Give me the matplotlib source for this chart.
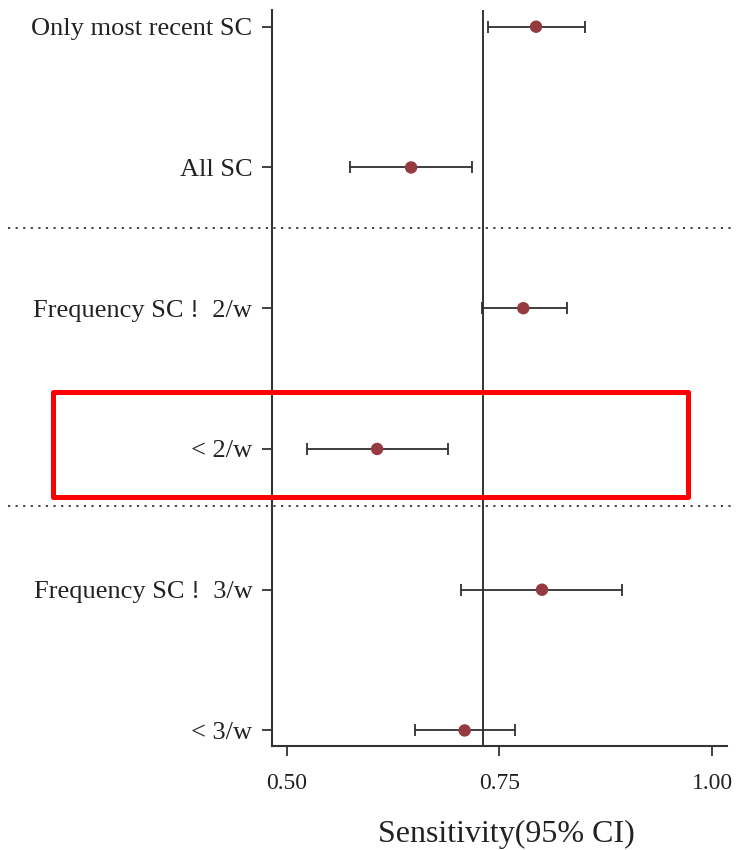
import matplotlib
matplotlib.use("Agg")
import matplotlib.pyplot as plt
from matplotlib.patches import Rectangle

# Data
labels = ["Only most recent SC", "All SC", "Frequency SC !  2/w", "< 2/w",
          "Frequency SC !  3/w", "< 3/w"]
estimate = [0.793, 0.646, 0.778, 0.606, 0.800, 0.709]
ci_low = [0.736, 0.574, 0.729, 0.523, 0.705, 0.651]
ci_high = [0.851, 0.718, 0.829, 0.689, 0.894, 0.768]
reference = 0.731
separators = [1.432, 3.408]
xticks = [0.50, 0.75, 1.00]
xticklabels = ["0.50", "0.75", "1.00"]

plt.rcParams['font.family'] = ['Liberation Serif', 'DejaVu Serif']

fig = plt.figure(figsize=(7.36, 8.5), dpi=100)
ax = fig.add_axes([272/736, 1-746/850, 455/736, 736/850])

ypos = list(range(len(labels)))
ax.axvline(reference, color='#333333', lw=1.4, zorder=1)

for y, lo, hi, est in zip(ypos, ci_low, ci_high, estimate):
    ax.errorbar([est], [y], xerr=[[est-lo], [hi-est]], fmt='none',
                ecolor='#2f2f2f', elinewidth=1.3, capsize=4.3, capthick=1.3, zorder=2)
ax.scatter(estimate, ypos, s=80, color='#943a40', zorder=3, edgecolors='none')

tr = ax.get_yaxis_transform()
for s in separators:
    ax.plot([-0.58, 1.02], [s, s], transform=tr, clip_on=False,
            color='#333333', lw=1.3, linestyle=(0, (1.2, 3)))

ax.set_xlim(0.48235, 1.01765)
ax.set_ylim(5.1105, -0.1187)
ax.set_yticks(ypos)
ax.set_yticklabels(labels, fontsize=19, color='#222222')
ax.set_xticks(xticks)
ax.set_xticklabels(xticklabels, fontsize=17, color='#222222')
ax.tick_params(axis='y', length=7.2, width=1.3, color='#333333', pad=7)
ax.tick_params(axis='x', length=7.2, width=1.3, color='#333333', pad=12)

for side in ['top', 'right']:
    ax.spines[side].set_visible(False)
for side in ['left', 'bottom']:
    ax.spines[side].set_color('#333333')
    ax.spines[side].set_linewidth(1.5)

ax.set_xlabel("Sensitivity(95% CI)", fontsize=23, color='#222222')
ax.xaxis.set_label_coords(0.516, -0.1005)

rect = Rectangle((52.5/736, 1-497/850), 635.5/736, 105/850,
                 transform=fig.transFigure, fill=False, edgecolor='#ff0000',
                 lw=3.6, joinstyle='round')
fig.add_artist(rect)

fig.savefig("out.png", dpi=100)
